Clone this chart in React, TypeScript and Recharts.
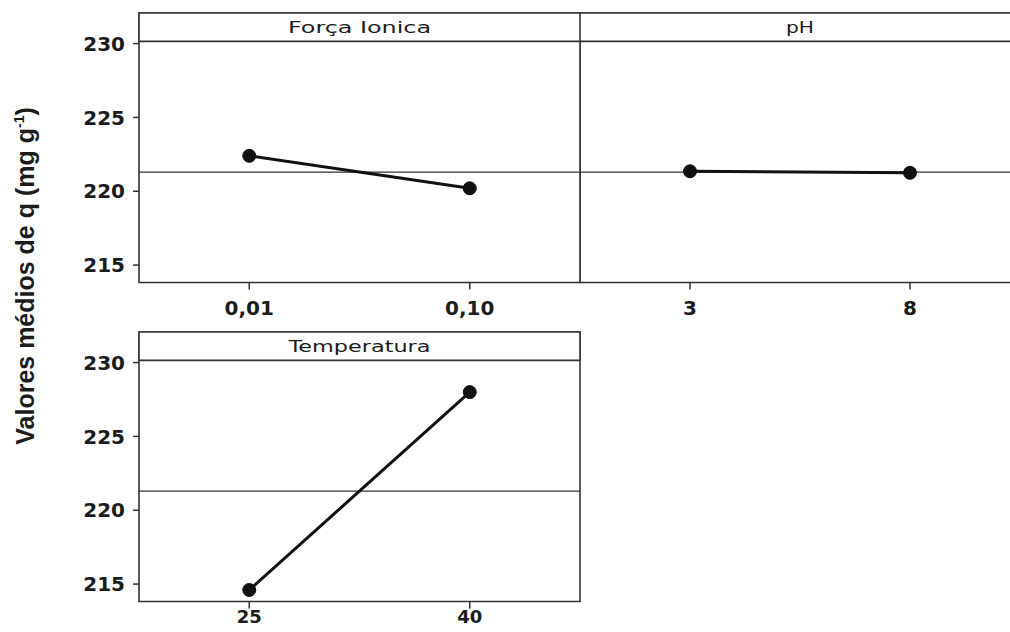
import { LineChart, Line, XAxis, YAxis, ReferenceArea, ReferenceLine } from 'recharts';

// main effects plot for the mean of q
const forcaLabels = ['0,01', '0,10'];
const forcaMeans = [222.4, 220.2];
const phLabels = ['3', '8'];
const phMeans = [221.35, 221.25];
const tempLabels = ['25', '40'];
const tempMeans = [214.6, 228.0];
const grandMean = 221.3;
const yTicks = [215, 220, 225, 230];

const Y_MIN = 213.82;
const Y_MAX = 232.07;
const HEADER_Y = 230.15; // bottom of the title strip
const PLOT_H = 269.5;
const INK = '#333';
const TXT = '#1c1c1c';

const tickFont = { fontFamily: 'DejaVu Sans', fontWeight: 'bold', fontSize: 20, fill: TXT };

type PanelProps = {
  title: string;
  titleLen: number;
  labels: string[];
  means: number[];
  left: number;
  top: number;
  width: number;
  height: number;
  showY: boolean;
  labelGap: number;
  xFontSize: number;
};

const headerLabel = (text: string, len: number) => (props: any) => {
  const { x, y, width, height } = props.viewBox;
  return (
    <text
      x={x + width / 2}
      y={y + height / 2 + 5.5}
      textAnchor="middle"
      textLength={len}
      lengthAdjust="spacingAndGlyphs"
      fontFamily="DejaVu Sans"
      fontSize={16}
      fill={TXT}
    >
      {text}
    </text>
  );
};

const Panel = ({
  title,
  titleLen,
  labels,
  means,
  left,
  top,
  width,
  height,
  showY,
  labelGap,
  xFontSize,
}: PanelProps) => {
  const data = labels.map((_, i) => ({ x: i, q: means[i] }));
  return (
    <div style={{ position: 'absolute', left, top }}>
      <LineChart
        width={width}
        height={height}
        data={data}
        margin={{ top: 13, right: showY ? 1 : 0, bottom: 0, left: 0 }}
      >
        <XAxis
          type="number"
          dataKey="x"
          domain={[-0.5, 1.5]}
          ticks={[0, 1]}
          tickFormatter={(v) => labels[v]}
          axisLine={false}
          tickLine={{ stroke: INK, strokeWidth: 1.5 }}
          tickSize={7}
          tickMargin={labelGap}
          tick={{ ...tickFont, fontSize: xFontSize }}
          height={height - 13 - PLOT_H}
          allowDataOverflow
        />
        <YAxis
          hide={!showY}
          width={139}
          domain={[Y_MIN, Y_MAX]}
          ticks={yTicks}
          allowDataOverflow
          axisLine={false}
          tickLine={{ stroke: INK, strokeWidth: 1.5 }}
          tickSize={6}
          tickMargin={8}
          tick={tickFont}
        />
        <ReferenceArea y1={Y_MIN} y2={Y_MAX} fill="none" stroke={INK} strokeWidth={1.6} />
        <ReferenceArea
          y1={HEADER_Y}
          y2={Y_MAX}
          fill="#fff"
          fillOpacity={1}
          stroke={INK}
          strokeWidth={1.6}
          label={headerLabel(title, titleLen)}
        />
        <ReferenceLine y={grandMean} stroke={INK} strokeWidth={1.2} />
        <Line
          dataKey="q"
          stroke="#111"
          strokeWidth={3}
          dot={{ r: 6.5, fill: '#111', stroke: '#111', strokeWidth: 1 }}
          isAnimationActive={false}
        />
      </LineChart>
    </div>
  );
};

export default function App() {
  return (
    <div
      style={{
        position: 'absolute',
        left: 0,
        top: 0,
        width: 1010,
        height: 632,
        overflow: 'hidden',
        background: '#fff',
      }}
    >
      <svg width={60} height={632} style={{ position: 'absolute', left: 0, top: 0 }}>
        <text
          transform="translate(34,276) rotate(-90)"
          textAnchor="middle"
          fontFamily="Liberation Sans, Arial"
          fontWeight="bold"
          fontSize={25}
          fill={TXT}
        >
          Valores médios de q (mg g
          <tspan dy={-10} fontSize={14}>-1</tspan>
          <tspan dy={10}>)</tspan>
        </text>
      </svg>
      <Panel
        title="Força Ionica"
        titleLen={143}
        labels={forcaLabels}
        means={forcaMeans}
        left={0}
        top={0}
        width={581}
        height={328}
        showY
        labelGap={11}
        xFontSize={20}
      />
      <Panel
        title="pH"
        titleLen={28}
        labels={phLabels}
        means={phMeans}
        left={580}
        top={0}
        width={440}
        height={328}
        showY={false}
        labelGap={11}
        xFontSize={20}
      />
      <Panel
        title="Temperatura"
        titleLen={142}
        labels={tempLabels}
        means={tempMeans}
        left={0}
        top={319}
        width={581}
        height={313}
        showY
        labelGap={2}
        xFontSize={18}
      />
    </div>
  );
}
